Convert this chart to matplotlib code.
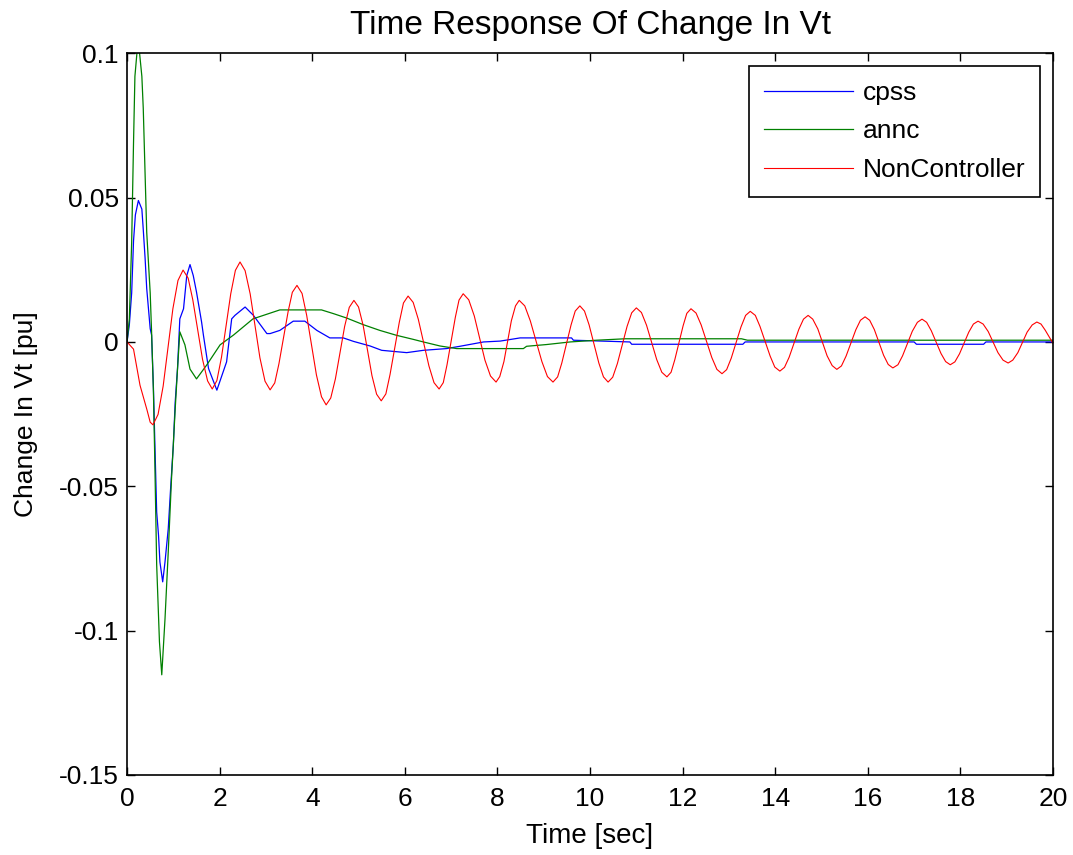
import matplotlib
matplotlib.use("Agg")
import matplotlib.pyplot as plt

plt.rcParams['font.family'] = ['Liberation Sans', 'DejaVu Sans']

# cpss response (blue)
t_cpss = [0, 0.05, 0.10, 0.14, 0.18, 0.245, 0.32, 0.35, 0.39, 0.425,
          0.50, 0.53, 0.57, 0.60, 0.64, 0.68, 0.71, 0.77, 0.82, 0.89,
          0.94, 1.00, 1.04, 1.09, 1.14, 1.22, 1.29, 1.36, 1.43, 1.50,
          1.61, 1.65, 1.76, 1.94, 2.15, 2.26, 2.33, 2.55, 2.73, 3.02,
          3.09, 3.30, 3.59, 3.84, 4.10, 4.38, 4.67, 4.89, 5.25, 5.50,
          6.04, 6.40, 6.90, 7.19, 7.70, 8.06, 8.49, 9.60, 9.64, 10.86,
          10.90, 13.30, 13.35, 17.0, 17.05, 18.5, 18.55, 20.0]
v_cpss = [0.0, 0.006, 0.017, 0.035, 0.044, 0.049, 0.046, 0.039, 0.029, 0.0185,
          0.0046, 0.0024, -0.016, -0.0346, -0.0589, -0.067, -0.0762, -0.0831, -0.0762, -0.0647,
          -0.051, -0.0357, -0.0208, -0.0092, 0.008, 0.0115, 0.023, 0.0268, 0.023, 0.0173,
          0.0069, 0.0023, -0.0092, -0.0167, -0.0069, 0.008, 0.0092, 0.0121, 0.0092, 0.0029,
          0.0029, 0.004, 0.0072, 0.0072, 0.004, 0.0014, 0.0014, 0.0002, -0.0014, -0.0029,
          -0.0037, -0.0029, -0.0023, -0.0015, 0.0, 0.0003, 0.0014, 0.0014, 0.0006, 0.0,
          -0.0008, -0.0008, 0.0, 0.0, -0.0008, -0.0008, 0.0, 0.0]

# annc response (green)
t_annc = [0, 0.05, 0.10, 0.14, 0.17, 0.24, 0.32, 0.35, 0.39, 0.425,
          0.50, 0.53, 0.57, 0.60, 0.64, 0.70, 0.75, 0.82, 0.89, 0.96,
          1.04, 1.09, 1.14, 1.25, 1.36, 1.50, 1.72, 2.01, 2.30, 2.72,
          3.30, 4.20, 4.46, 4.74, 5.10, 5.46, 5.82, 6.18, 6.40, 6.76,
          7.12, 8.56, 8.63, 9.06, 9.57, 10.14, 10.76, 13.27, 13.40, 20.0]
v_annc = [0.0, 0.008, 0.0346, 0.069, 0.092, 0.105, 0.092, 0.081, 0.058, 0.038,
          0.017, 0.0035, -0.0173, -0.0416, -0.0772, -0.1039, -0.1153, -0.0959, -0.0727, -0.0475,
          -0.0232, -0.0094, 0.0035, -0.001, -0.0094, -0.0128, -0.008, -0.001, 0.0024, 0.008,
          0.0111, 0.0111, 0.0098, 0.0083, 0.006, 0.004, 0.0023, 0.0009, 0.0, -0.0014,
          -0.0023, -0.0023, -0.0015, -0.0009, 0.0, 0.0006, 0.0011, 0.0011, 0.0006, 0.0006]

# no controller (red)
t_nonc = [0.00, 0.14, 0.28, 0.43, 0.50, 0.56, 0.67, 0.78, 0.99, 1.10,
          1.21, 1.32, 1.42, 1.63, 1.74, 1.84, 1.94, 2.04, 2.24, 2.34,
          2.44, 2.55, 2.66, 2.87, 2.98, 3.09, 3.19, 3.28, 3.48, 3.57,
          3.67, 3.78, 3.88, 4.09, 4.20, 4.30, 4.40, 4.50, 4.70, 4.80,
          4.90, 5.00, 5.10, 5.29, 5.39, 5.49, 5.59, 5.68, 5.88, 5.97,
          6.07, 6.18, 6.29, 6.52, 6.63, 6.74, 6.83, 6.91, 7.09, 7.17,
          7.26, 7.38, 7.50, 7.73, 7.85, 7.97, 8.05, 8.14, 8.30, 8.39,
          8.47, 8.59, 8.71, 8.96, 9.08, 9.20, 9.30, 9.39, 9.59, 9.68,
          9.78, 9.88, 9.98, 10.19, 10.29, 10.39, 10.49, 10.59, 10.80, 10.90,
          11.00, 11.11, 11.22, 11.44, 11.55, 11.66, 11.75, 11.83, 12.01, 12.09,
          12.18, 12.29, 12.40, 12.63, 12.74, 12.85, 12.95, 13.05, 13.26, 13.36,
          13.46, 13.57, 13.67, 13.89, 13.99, 14.10, 14.20, 14.30, 14.51, 14.61,
          14.71, 14.81, 14.92, 15.12, 15.23, 15.33, 15.43, 15.53, 15.74, 15.84,
          15.94, 16.04, 16.14, 16.34, 16.44, 16.54, 16.65, 16.75, 16.96, 17.07,
          17.17, 17.27, 17.37, 17.58, 17.68, 17.78, 17.88, 17.98, 18.18, 18.28,
          18.38, 18.49, 18.60, 18.81, 18.92, 19.03, 19.13, 19.24, 19.44, 19.55,
          19.65, 19.74, 19.83, 20.0]
v_nonc = [0.0, -0.0025, -0.015, -0.0235, -0.0278, -0.0287, -0.0251, -0.0153, 0.0115, 0.0213,
          0.0249, 0.0221, 0.0146, -0.006, -0.0135, -0.0163, -0.0134, -0.0053, 0.0167, 0.0248,
          0.0277, 0.0247, 0.0166, -0.0055, -0.0136, -0.0166, -0.0142, -0.0076, 0.0106, 0.0172,
          0.0196, 0.0168, 0.0092, -0.0114, -0.019, -0.0218, -0.0194, -0.0128, 0.0054, 0.012,
          0.0144, 0.0121, 0.0057, -0.0117, -0.0181, -0.0204, -0.018, -0.0113, 0.0068, 0.0135,
          0.0159, 0.0137, 0.0079, -0.0083, -0.0141, -0.0163, -0.0141, -0.008, 0.0085, 0.0145,
          0.0167, 0.0146, 0.009, -0.0063, -0.0118, -0.0139, -0.012, -0.0068, 0.0073, 0.0125,
          0.0144, 0.0125, 0.0073, -0.0068, -0.012, -0.0139, -0.0121, -0.0073, 0.0059, 0.0107,
          0.0125, 0.0107, 0.0059, -0.0073, -0.0121, -0.0139, -0.0122, -0.0075, 0.0054, 0.0101,
          0.0118, 0.0102, 0.0058, -0.0061, -0.0105, -0.0121, -0.0105, -0.0062, 0.0056, 0.0099,
          0.0115, 0.01, 0.0059, -0.0054, -0.0095, -0.011, -0.0096, -0.0056, 0.0052, 0.0092,
          0.0106, 0.0092, 0.0054, -0.0049, -0.0087, -0.0101, -0.0088, -0.0053, 0.0044, 0.0079,
          0.0092, 0.0079, 0.0045, -0.0048, -0.0082, -0.0095, -0.0083, -0.0049, 0.0042, 0.0075,
          0.0087, 0.0075, 0.0043, -0.0046, -0.0078, -0.009, -0.0079, -0.0048, 0.0037, 0.0068,
          0.0079, 0.0068, 0.0039, -0.004, -0.0068, -0.0079, -0.0069, -0.0041, 0.0034, 0.0062,
          0.0072, 0.0062, 0.0036, -0.0037, -0.0063, -0.0073, -0.0063, -0.0037, 0.0034, 0.0059,
          0.0069, 0.0062, 0.0041, -0.0005]

x_ticks = [0, 2, 4, 6, 8, 10, 12, 14, 16, 18, 20]
y_ticks = [-0.15, -0.1, -0.05, 0, 0.05, 0.1]
y_tick_labels = ['-0.15', '-0.1', '-0.05', '0', '0.05', '0.1']

fig = plt.figure(figsize=(10.73, 8.55), dpi=100)
ax = fig.add_axes([0.1184, 0.0936, 0.8630, 0.8441])

ax.plot(t_cpss, v_cpss, color='#0000ff', lw=0.9, label='cpss')
ax.plot(t_annc, v_annc, color='#008000', lw=0.9, label='annc')
ax.plot(t_nonc, v_nonc, color='#ff0000', lw=0.8, label='NonController')

ax.set_xlim(0, 20)
ax.set_ylim(-0.15, 0.1)
ax.set_xticks(x_ticks)
ax.set_xticklabels([str(x) for x in x_ticks])
ax.set_yticks(y_ticks)
ax.set_yticklabels(y_tick_labels)
ax.tick_params(direction='in', length=6, width=1, top=True, right=True,
               labelsize=19, pad=6)
ax.tick_params(axis='x', pad=9)
for s in ax.spines.values():
    s.set_linewidth(1.2)

ax.set_title('Time Response Of Change In Vt', fontsize=24, pad=14)
ax.set_xlabel('Time [sec]', fontsize=20, labelpad=8)
ax.set_ylabel('Change In Vt [pu]', fontsize=19, labelpad=15)

leg = ax.legend(loc='upper right', fontsize=19, frameon=True, fancybox=False,
                edgecolor='black', framealpha=1, handlelength=3.4,
                handletextpad=0.35, labelspacing=0.55, borderaxespad=0.5,
                borderpad=0.55)
leg.get_frame().set_linewidth(1.2)

fig.savefig('out.png', dpi=100)
